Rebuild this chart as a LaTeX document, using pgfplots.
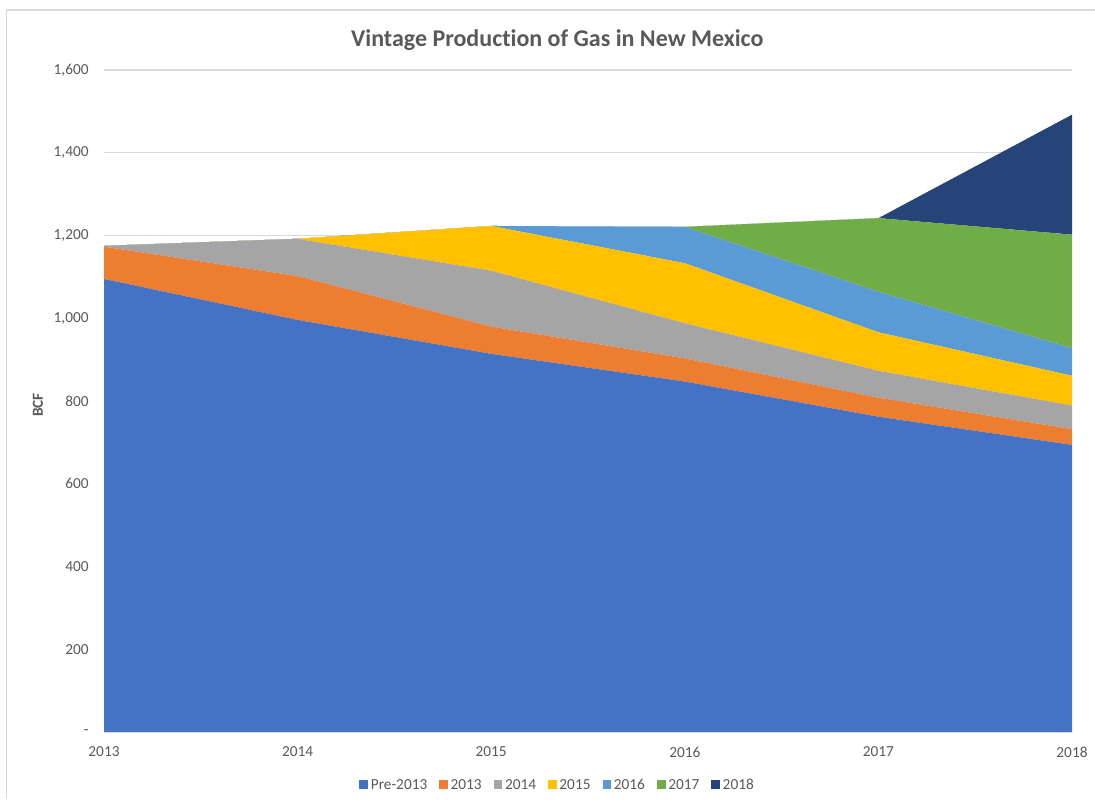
\documentclass[border=0pt]{standalone}
\usepackage{pgfplots}
\pgfplotsset{compat=1.18}
\usepackage{fontspec}
\setmainfont{Carlito}[Ligatures=NoCommon]

\definecolor{txt}{HTML}{595959}
\definecolor{gridc}{HTML}{D9D9D9}
\definecolor{frame}{HTML}{D9D9D9}
\definecolor{cPre}{HTML}{4472C4}
\definecolor{cA}{HTML}{ED7D31}
\definecolor{cB}{HTML}{A5A5A5}
\definecolor{cC}{HTML}{FFC000}
\definecolor{cD}{HTML}{5B9BD5}
\definecolor{cE}{HTML}{70AD47}
\definecolor{cF}{HTML}{264478}

% Gas production (BCF) by vintage of the wells
\pgfplotstableread{
x  pre  v13 v14 v15 v16 v17 v18
0  1095 78  2   0   0   0   0
1  996  106 90  0   0   0   0
2  914  66  135 108 0   0   0
3  847  56  85  145 88  0   0
4  762  46  65  93  98  178 0
5  694  38  57  72  67  274 290
}\vintage

\begin{document}
\begin{tikzpicture}
  % chart area: fixed page size with the frame lines
  \useasboundingbox (0pt,0pt) rectangle (821.25pt,599.25pt);
  \draw[frame,line width=0.8pt] (5pt,0pt) -- (5pt,591.75pt) -- (821.25pt,591.75pt);

  \node[font=\fontsize{18}{21}\selectfont\bfseries,text=txt] at (418pt,569pt)
    {Vintage Production of Gas in New Mexico};
  \node[font=\fontsize{11.5}{13}\selectfont\bfseries,text=txt,rotate=90] at (28.5pt,295.5pt) {BCF};

  \begin{axis}[
    at={(78pt,50.25pt)}, anchor=origin,
    scale only axis, width=726pt, height=496.5pt,
    xmin=0, xmax=5, ymin=0, ymax=1600,
    stack plots=y,
    axis line style={draw=none},
    ytick={0,200,...,1600},
    yticklabels={-,200,400,600,800,{1,000},{1,200},{1,400},{1,600}},
    xtick={0,...,5},
    xticklabels={2013,2014,2015,2016,2017,2018},
    major tick length=0pt,
    ymajorgrids, grid style={gridc,line width=0.8pt},
    tick label style={font=\fontsize{11.5}{13}\selectfont,text=txt},
    yticklabel style={xshift=-8pt},
    xticklabel style={yshift=-7.5pt},
    legend columns=7,
    legend style={at={(0.469,-0.0803)},anchor=center,draw=none,fill=none,
      font=\fontsize{11.5}{13}\selectfont,text=txt,
      /tikz/every even column/.append style={column sep=7pt}},
    legend image code/.code={\fill[#1] (0pt,-3pt) rectangle (6.5pt,3.5pt);},
    every axis plot/.append style={draw=none},
  ]
    \addplot[fill=cPre] table[x=x,y=pre]{\vintage} \closedcycle;
    \addlegendentry{Pre-2013}
    \addplot[fill=cA] table[x=x,y=v13]{\vintage} \closedcycle;
    \addlegendentry{2013}
    \addplot[fill=cB] table[x=x,y=v14]{\vintage} \closedcycle;
    \addlegendentry{2014}
    \addplot[fill=cC] table[x=x,y=v15]{\vintage} \closedcycle;
    \addlegendentry{2015}
    \addplot[fill=cD] table[x=x,y=v16]{\vintage} \closedcycle;
    \addlegendentry{2016}
    \addplot[fill=cE] table[x=x,y=v17]{\vintage} \closedcycle;
    \addlegendentry{2017}
    \addplot[fill=cF] table[x=x,y=v18]{\vintage} \closedcycle;
    \addlegendentry{2018}
    \draw[gridc,line width=0.8pt] (axis cs:0,0) -- (axis cs:5,0);
  \end{axis}
\end{tikzpicture}
\end{document}
